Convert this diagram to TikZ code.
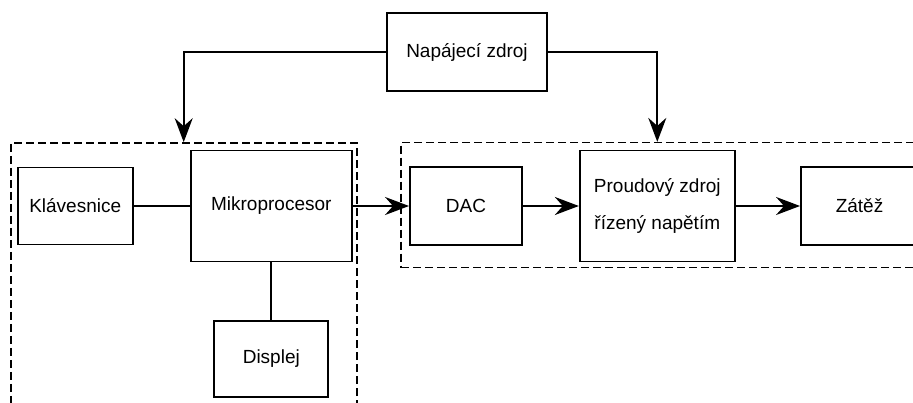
\documentclass[tikz,border=0pt]{standalone}
\usepackage{fontspec}
\setmainfont{Liberation Sans}
\usetikzlibrary{arrows.meta}
\begin{document}
\begin{tikzpicture}[x=1pt,y=-1pt,
  blk/.style={draw, line width=1.9pt, inner sep=0pt, align=center, font=\fontsize{19}{37}\selectfont},
  grp/.style={draw, line width=1.6pt, dash pattern=on 8pt off 4pt, inner sep=0pt},
  conn/.style={line width=2pt},
  arr/.style={conn, -{Stealth[length=24pt,width=18pt,inset=8pt]}}]
\useasboundingbox (0,0) rectangle (913,403);
\node[grp, minimum width=346pt, minimum height=267pt] (lgrp) at (183.7,276.5) {};
\node[grp, minimum width=524pt, minimum height=125pt] (rgrp) at (663,205.2) {};
\node[blk, minimum width=160pt, minimum height=78pt] (nap) at (467,52) {Napájecí zdroj};
\node[blk, minimum width=115pt, minimum height=77pt] (klav) at (75.2,206) {Klávesnice};
\node[blk, minimum width=161pt, minimum height=111pt] (mikro) at (271.3,206) {Mikroprocesor};
\node[blk, minimum width=114pt, minimum height=76pt] (disp) at (271.3,359) {Displej};
\node[blk, minimum width=112pt, minimum height=77.6pt] (dac) at (466,206) {DAC};
\node[blk, minimum width=155pt, minimum height=111pt] (proud) at (657.3,206) {Proudový zdroj\\řízený napětím};
\node[blk, minimum width=117pt, minimum height=78pt] (zatez) at (859.5,206) {Zátěž};
\draw[conn] (klav) -- (mikro);
\draw[conn] (mikro) -- (disp);
\draw[arr] (mikro) -- (dac);
\draw[arr] (dac) -- (proud);
\draw[arr] (proud) -- (zatez);
\draw[arr] (nap.west) -| (lgrp.north);
\draw[arr] (nap.east) -| (proud.north |- rgrp.north);
\end{tikzpicture}
\end{document}
